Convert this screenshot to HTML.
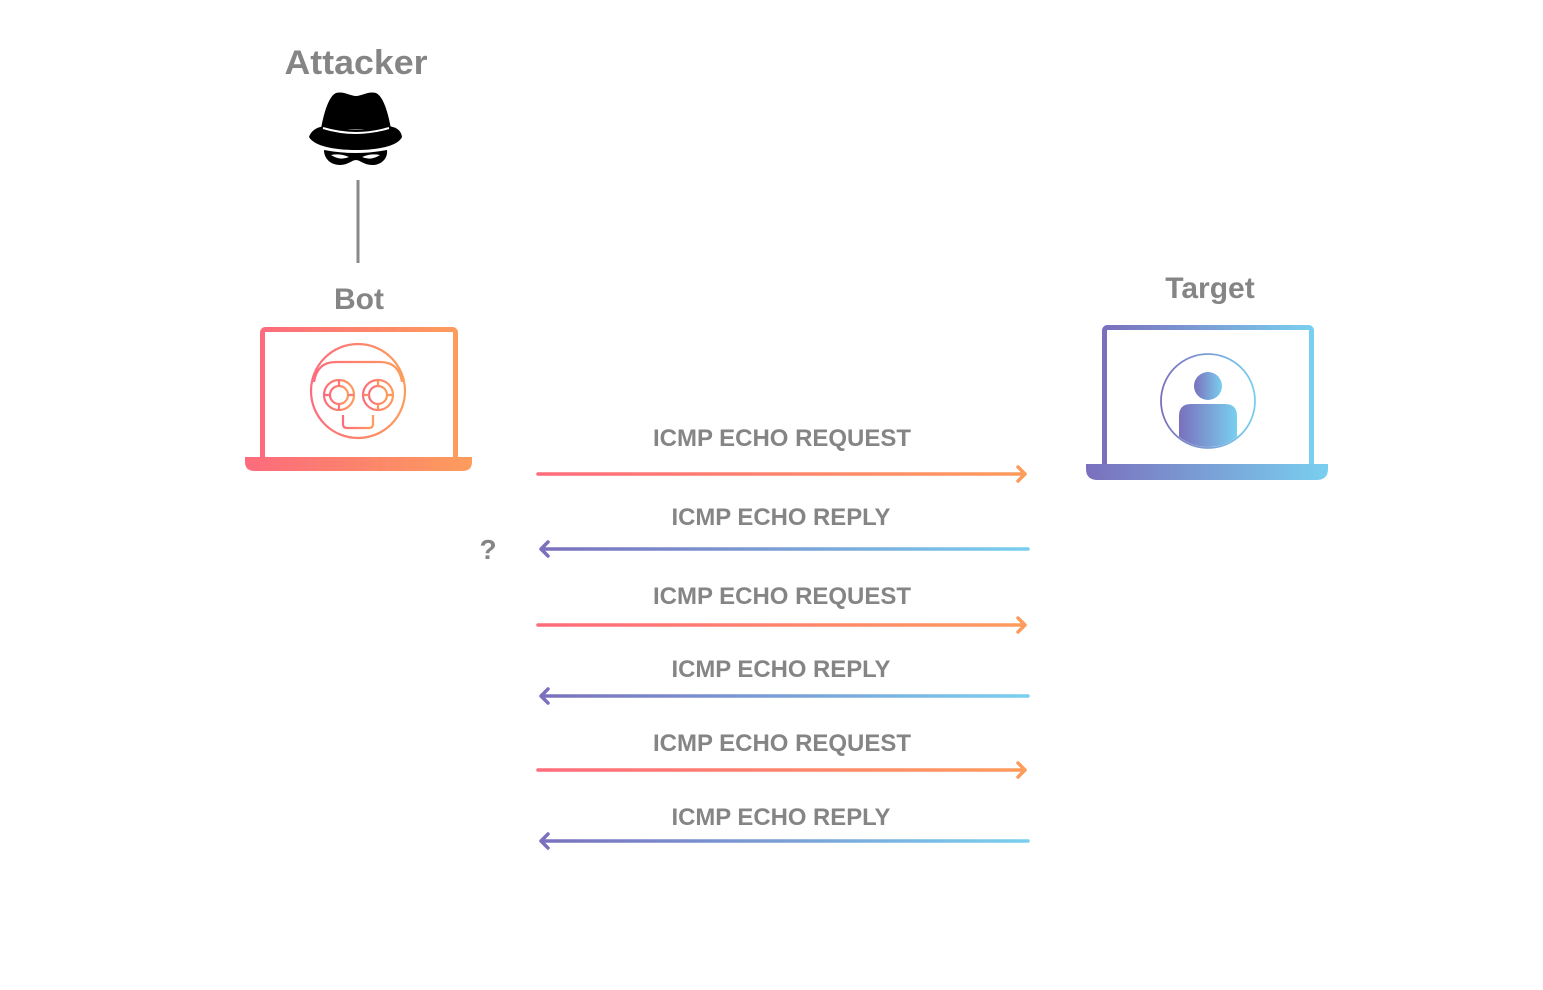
<!DOCTYPE html>
<html><head><meta charset="utf-8"><style>
html,body{margin:0;padding:0;background:#fff;}
svg{display:block;}
text{font-family:"Liberation Sans",sans-serif;font-weight:bold;fill:#858585;}
</style></head><body>
<svg width="1543" height="990" viewBox="0 0 1543 990" xmlns="http://www.w3.org/2000/svg">
<defs>
<linearGradient id="o" x1="0" x2="1" y1="0" y2="0"><stop offset="0" stop-color="#fd6b7c"/><stop offset="1" stop-color="#fd9c5c"/></linearGradient>
<linearGradient id="b" x1="0" x2="1" y1="0" y2="0"><stop offset="0" stop-color="#7a70bd"/><stop offset="1" stop-color="#79cfef"/></linearGradient>
<linearGradient id="og" gradientUnits="userSpaceOnUse" x1="537" x2="1027" y1="0" y2="0"><stop offset="0" stop-color="#fd6b7c"/><stop offset="1" stop-color="#fd9c5c"/></linearGradient>
<linearGradient id="bg" gradientUnits="userSpaceOnUse" x1="540" x2="1029" y1="0" y2="0"><stop offset="0" stop-color="#7a70bd"/><stop offset="1" stop-color="#79cfef"/></linearGradient>
<clipPath id="cc"><circle cx="1208" cy="401" r="46"/></clipPath>
</defs>

<text x="356" y="74" font-size="34" text-anchor="middle" textLength="143" lengthAdjust="spacingAndGlyphs">Attacker</text>
<path d="M321 129 C324 112 329 96 336 93 C344 91 350 96 356 96 C362 96 368 91 376 93 C383 96 388 112 391 129 Z" fill="#000"/>
<path d="M309 137 C312 128 322 125 332 126 Q356 133 380 126 C392 125 401 128 402 137 C398 146 378 150 356 150 C334 150 314 146 309 137 Z" fill="#000"/>
<path d="M323 128 Q356 138 389 128" stroke="#fff" stroke-width="2" fill="none"/>
<path d="M324 150 Q356 156 387 150 C388 158 382 165 372 165 C364 165 360 160 356 160 C352 160 348 165 340 165 C330 165 324 158 324 150 Z" fill="#000"/>
<path d="M331 155 Q340 153 349 157 Q340 161 331 155 Z" fill="#fff"/>
<path d="M380 155 Q371 153 362 157 Q371 161 380 155 Z" fill="#fff"/>
<line x1="358" y1="180" x2="358" y2="263" stroke="#8a8a8a" stroke-width="3"/>

<text x="359" y="309" font-size="30" text-anchor="middle">Bot</text>
<rect x="262.5" y="329.5" width="193" height="130" rx="3" fill="none" stroke="url(#o)" stroke-width="5"/>
<path d="M245 457 H472 V462 Q472 471 462 471 H255 Q245 471 245 462 Z" fill="url(#o)"/>
<g fill="none" stroke="url(#o)" stroke-width="2.2">
<circle cx="358" cy="391" r="47"/>
<path d="M314 382 Q317 362 336 362 H380 Q399 362 402 382"/>
<path d="M314 415 H402"/>
<path d="M319 423 H397"/>
<path d="M343 415 V424 Q343 428 347 428 H369 Q373 428 373 424 V415"/>
<circle cx="339" cy="395" r="15"/><circle cx="339" cy="395" r="9"/>
<circle cx="378" cy="395" r="15"/><circle cx="378" cy="395" r="9"/>
<path d="M339 380 V386 M339 404 V410 M324 395 H330 M348 395 H354 M378 380 V386 M378 404 V410 M363 395 H369 M387 395 H393"/>
</g>

<text x="1210" y="298" font-size="30" text-anchor="middle">Target</text>
<rect x="1104.5" y="327.5" width="207" height="140" rx="3" fill="none" stroke="url(#b)" stroke-width="5"/>
<path d="M1086 464 H1328 V469 Q1328 480 1316 480 H1098 Q1086 480 1086 469 Z" fill="url(#b)"/>
<circle cx="1208" cy="401" r="47" fill="none" stroke="url(#b)" stroke-width="1.8"/>
<circle cx="1208" cy="386" r="14" fill="url(#b)"/>
<path d="M1179 460 V416 Q1179 404 1191 404 H1225 Q1237 404 1237 416 V460 Z" fill="url(#b)" clip-path="url(#cc)"/>

<g font-size="24">
<text x="782" y="446" text-anchor="middle" textLength="258" lengthAdjust="spacingAndGlyphs">ICMP ECHO REQUEST</text>
<text x="781" y="525" text-anchor="middle" textLength="219" lengthAdjust="spacingAndGlyphs">ICMP ECHO REPLY</text>
<text x="782" y="604" text-anchor="middle" textLength="258" lengthAdjust="spacingAndGlyphs">ICMP ECHO REQUEST</text>
<text x="781" y="677" text-anchor="middle" textLength="219" lengthAdjust="spacingAndGlyphs">ICMP ECHO REPLY</text>
<text x="782" y="751" text-anchor="middle" textLength="258" lengthAdjust="spacingAndGlyphs">ICMP ECHO REQUEST</text>
<text x="781" y="825" text-anchor="middle" textLength="219" lengthAdjust="spacingAndGlyphs">ICMP ECHO REPLY</text>
</g>
<text x="488" y="559" font-size="28" text-anchor="middle">?</text>

<g fill="none" stroke-width="3.5" stroke-linecap="round" stroke-linejoin="round">
<g stroke="url(#og)">
<path d="M538 474 H1025 M1018 467 L1025 474 L1018 481"/>
<path d="M538 625 H1025 M1018 618 L1025 625 L1018 632"/>
<path d="M538 770 H1025 M1018 763 L1025 770 L1018 777"/>
</g>
<g stroke="url(#bg)">
<path d="M1028 549 H541 M548 542 L541 549 L548 556"/>
<path d="M1028 696 H541 M548 689 L541 696 L548 703"/>
<path d="M1028 841 H541 M548 834 L541 841 L548 848"/>
</g>
</g>
</svg>
</body></html>
